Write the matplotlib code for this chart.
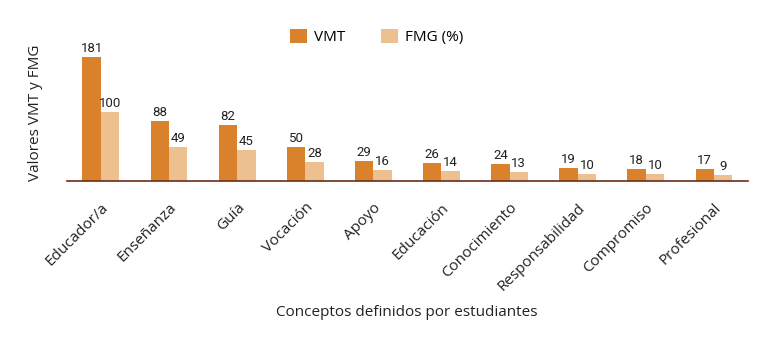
import matplotlib
matplotlib.use("Agg")
import matplotlib.pyplot as plt
import numpy as np

categories = ["Educador/a", "Enseñanza", "Guía", "Vocación", "Apoyo", "Educación",
              "Conocimiento", "Responsabilidad", "Compromiso", "Profesional"]
vmt = [181, 88, 82, 50, 29, 26, 24, 19, 18, 17]
fmg = [100, 49, 45, 28, 16, 14, 13, 10, 10, 9]

plt.rcParams['font.family'] = ['Open Sans', 'DejaVu Sans']

vmt_color = '#D9822B'
fmg_color = '#EDC08F'

fig = plt.figure(figsize=(7.68, 3.54), dpi=100)
ax = fig.add_axes([0.087, 0.489, 0.887, 0.387])

x = np.arange(len(categories))
w = 0.27
b1 = ax.bar(x - w / 2, vmt, w, color=vmt_color, label='VMT')
b2 = ax.bar(x + w / 2, fmg, w, color=fmg_color, label='FMG (%)')

num_font = ['Roboto', 'DejaVu Sans']
for rect, v in zip(b1, vmt):
    ax.text(rect.get_x() + rect.get_width() / 2, v + 3, str(v), ha='center', va='bottom',
            fontsize=9.5, family=num_font, color='#222222', fontstretch='condensed')
for rect, v in zip(b2, fmg):
    ax.text(rect.get_x() + rect.get_width() / 2, v + 3, str(v), ha='center', va='bottom',
            fontsize=9.5, family=num_font, color='#222222', fontstretch='condensed')

ax.set_xlim(-0.5, 9.5)
ax.set_ylim(0, 200)
for s in ['top', 'right', 'left']:
    ax.spines[s].set_visible(False)
ax.spines['bottom'].set_color('#6B2E1A')
ax.spines['bottom'].set_linewidth(1.2)
ax.set_yticks([])
ax.set_xticks(x)
ax.set_xticklabels(categories, rotation=45, ha='right', rotation_mode='anchor',
                   fontsize=11, color='#222222')
ax.tick_params(axis='x', length=0, pad=14)

ax.set_ylabel('Valores VMT y FMG', fontsize=11, color='#222222', labelpad=17)
fig.text(0.53, 0.118, 'Conceptos definidos por estudiantes', ha='center', va='center',
         fontsize=11, color='#222222')

ax.legend(loc='center', bbox_to_anchor=(0.455, 1.05), ncol=2, frameon=False,
          fontsize=11, handlelength=1.1, handleheight=1.1, columnspacing=2.3,
          handletextpad=0.5)

fig.savefig('out.png', dpi=100)
